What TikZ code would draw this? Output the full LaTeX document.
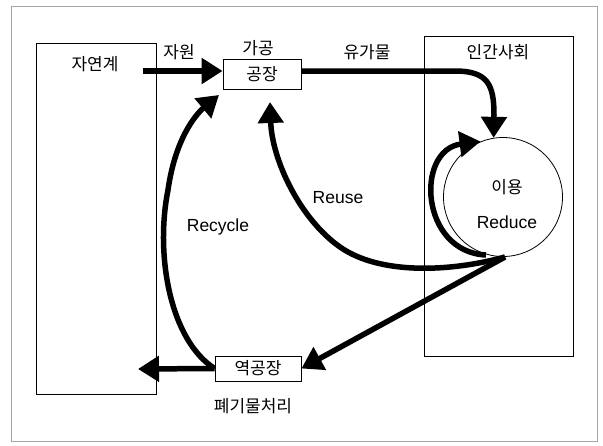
\documentclass[tikz,border=0pt]{standalone}
\usepackage{fontspec}
\setmainfont{Liberation Sans}
\newfontfamily\kr{Noto Sans CJK KR}
\usetikzlibrary{arrows.meta}
\begin{document}
\begin{tikzpicture}[x=1pt,y=-1pt,
  box/.style={draw=black,line width=0.8pt,inner sep=0pt},
  krt/.style={font=\kr\fontsize{17}{19}\selectfont,inner sep=0pt},
  ent/.style={font=\fontsize{17.5}{20}\selectfont,inner sep=0pt},
  flow/.style={line width=5.5pt,-{Triangle[length=21pt,width=25pt]}},
]
\useasboundingbox (0,0) rectangle (603,445);
\draw[gray!70,line width=0.8pt] (11,6) rectangle (597,441);
% boxes
\node[box,minimum width=120pt,minimum height=351pt] (nat) at (96,218.5) {};
\node[krt] (natl) at (95,64) {자연계};
\node[box,minimum width=149pt,minimum height=320pt] (soc) at (498.5,196) {};
\node[krt] (socl) at (498,52) {인간사회};
\node[box,minimum width=78pt,minimum height=30pt,krt] (fac) at (262,74) {공장};
\node[krt] (facl) at (258,48) {가공};
\node[box,minimum width=86pt,minimum height=25pt,krt] (rev) at (258,368.5) {역공장};
\node[krt] (revl) at (253,406) {폐기물처리};
\node[box,circle,minimum size=119pt] (use) at (503,197) {};
\node[krt] (usel) at (507,187) {이용};
\node[ent] (red) at (507,222) {Reduce};
\node[krt] (res) at (179,52) {자원};
\node[krt] (val) at (367,52) {유가물};
\node[ent] (reusel) at (338,198) {Reuse};
\node[ent] (recl) at (218,227) {Recycle};
% connectors
\coordinate (src) at (143,71);
\coordinate (out) at (505,257);
\coordinate (sink) at (138,369);
\coordinate (loopstart) at (486,255);
\draw[flow] (src) -- (fac.west |- src);
\draw[flow] (fac.east |- src) -- (455,71) .. controls (488,71) and (494,85) .. (494,115) -- (use.99);
\draw[flow] (loopstart) .. controls (420,252) and (415,150) .. (use.112);
\draw[flow] (out) .. controls (450,272) and (380,275) .. (340,247) .. controls (300,219) and (272,160) .. (270,102);
\draw[flow] (out) -- (rev.east);
\draw[flow] (rev.west) .. controls (170,340) and (155,255) .. (168,190) .. controls (175,140) and (195,115) .. (219,95);
\draw[flow] (rev.west) -- (sink);
\end{tikzpicture}
\end{document}
